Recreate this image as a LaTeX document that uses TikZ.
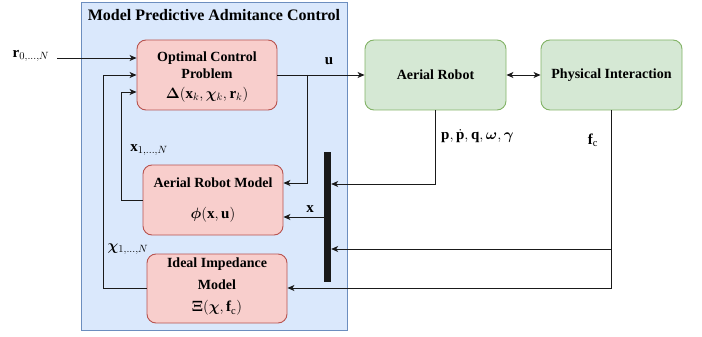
\documentclass[tikz,border=0pt]{standalone}
\usepackage{fix-cm}
\usepackage{amsmath,bm}
\usepackage{fontspec}
\setmainfont{Liberation Serif}
\usetikzlibrary{arrows.meta}
\definecolor{bluefill}{HTML}{DAE8FC}
\definecolor{bluedraw}{HTML}{6C8EBF}
\definecolor{redfill}{HTML}{F8CECC}
\definecolor{reddraw}{HTML}{B85450}
\definecolor{greenfill}{HTML}{D5E8D4}
\definecolor{greendraw}{HTML}{82B366}
\definecolor{lineclr}{HTML}{1A1A1A}
\tikzset{
  boxfont/.style={font=\fontsize{14}{16}\selectfont\bfseries},
  redbox/.style={draw=reddraw, fill=redfill, rounded corners=9pt, line width=0.9pt,
    minimum width=140pt, minimum height=70pt, align=center, inner sep=0pt},
  greenbox/.style={draw=greendraw, fill=greenfill, rounded corners=9pt, line width=0.9pt,
    minimum width=141pt, minimum height=70pt, align=center, inner sep=0pt, boxfont},
  txt/.style={boxfont, inner sep=0pt},
  conn/.style={draw=lineclr, line width=0.8pt},
  arr/.style={conn, -{Stealth[length=7pt,width=6pt,inset=2pt]}},
  lbl/.style={font=\fontsize{15}{17}\selectfont, inner sep=0pt},
}
\begin{document}
\begin{tikzpicture}[x=1pt,y=-1pt]
\useasboundingbox (0,0) rectangle (702,337);
% container
\node[draw=bluedraw, fill=bluefill, line width=0.9pt, minimum width=266pt, minimum height=328pt, inner sep=0pt] (mpac) at (214,166) {};
\node[font=\fontsize{16}{18}\selectfont\bfseries, inner sep=0pt] (title) at (214,15) {Model Predictive Admitance Control};
% boxes
\node[redbox] (ocp) at (207,75) {};
\node[txt] (ocpt1) at (207,58) {Optimal Control};
\node[txt] (ocpt2) at (207,74) {Problem};
\node[lbl] (ocpt3) at (207,95) {$\bm{\Delta}(\mathbf{x}_k,\bm{\chi}_k,\mathbf{r}_k)$};
\node[redbox] (arm) at (213,200) {};
\node[txt] (armt1) at (213,183) {Aerial Robot Model};
\node[lbl] (armt2) at (213,215) {$\bm{\phi}(\mathbf{x},\mathbf{u})$};
\node[redbox, minimum height=69pt] (iim) at (217,288.5) {};
\node[txt] (iimt1) at (217,264) {Ideal Impedance};
\node[txt] (iimt2) at (217,285) {Model};
\node[lbl] (iimt3) at (217,308) {$\bm{\Xi}(\bm{\chi},\mathbf{f}_{\mathrm{c}})$};
\node[greenbox] (ar) at (435.5,75) {Aerial Robot};
\node[greenbox] (pi) at (611.5,75) {Physical Interaction};
% bar
\node[fill=black!90, minimum width=7pt, minimum height=130pt, inner sep=0pt] (bar) at (327.5,217) {};
% labels
\node[lbl] (rl) at (31,56) {$\mathbf{r}_{0,\ldots,N}$};
\coordinate (rs) at (57,58);
\node[lbl] (ul) at (329,61) {$\mathbf{u}$};
\node[lbl] (xl) at (149,150) {$\mathbf{x}_{1,\ldots,N}$};
\node[lbl] (chil) at (128,249) {$\bm{\chi}_{1,\ldots,N}$};
\node[lbl] (xsl) at (310,209) {$\mathbf{x}$};
\node[lbl, anchor=west] (statel) at (441,136) {$\mathbf{p},\dot{\mathbf{p}},\mathbf{q},\bm{\omega},\bm{\gamma}$};
\node[lbl] (fcl) at (593,140) {$\mathbf{f}_{\mathrm{c}}$};
% coordinates
\coordinate (br) at (307,75);
\coordinate (chix) at (103,0);
\coordinate (xx) at (121,0);
\coordinate (fcj) at (611.5,249);
% connectors
\draw[arr] (rs) -- (rs -| ocp.west);
\draw[arr] (iim.west |- 0,288) -- (chix |- 0,288) -- (chix |- 0,75) -- (ocp.west);
\draw[arr] (arm.west) -- (xx |- arm.west) -- (xx |- 0,92) -- (ocp.west |- 0,92);
\draw[arr] (ocp.east) -- (ar.west);
\draw[arr] (br) -- (br |- 0,183) -- (arm.east |- 0,183);
\draw[arr] (ar.south) -- (ar.south |- 0,184) -- (bar.east |- 0,184);
\draw[arr] (bar.west |- 0,217) -- (arm.east |- 0,217);
\draw[arr] (pi.south) -- (pi.south |- 0,288) -- (iim.east |- 0,288);
\draw[arr] (fcj) -- (bar.east |- fcj);
\draw[conn, {Stealth[length=7pt,width=6pt,inset=2pt]}-{Stealth[length=7pt,width=6pt,inset=2pt]}] (ar.east) -- (pi.west);
\end{tikzpicture}
\end{document}
